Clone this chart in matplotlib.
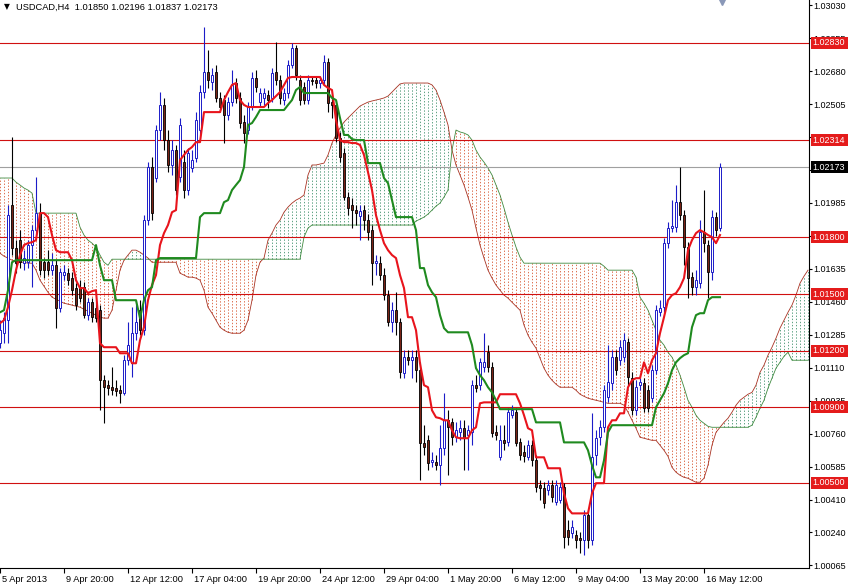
import numpy as np
import matplotlib
matplotlib.use("Agg")
import matplotlib.pyplot as plt
from matplotlib.transforms import blended_transform_factory
from matplotlib.patches import Rectangle

plt.rcParams['font.family'] = ['Liberation Sans', 'DejaVu Sans']

header_text = "USDCAD,H4  1.01850 1.02196 1.01837 1.02173"

opens = [
 1.01240, 1.01293, 1.01362, 1.01971, 1.01744, 1.01786, 1.01664, 1.01669, 1.01760, 1.01839,
 1.01929, 1.01669, 1.01669, 1.01627, 1.01653, 1.01426, 1.01601, 1.01611, 1.01585, 1.01532,
 1.01537, 1.01537, 1.01389, 1.01457, 1.01426, 1.01415, 1.01044, 1.01018, 1.01007, 1.01002,
 1.00991, 1.00975, 1.01150, 1.01134, 1.01293, 1.01415, 1.01309, 1.01892, 1.02173, 1.02115,
 1.02369, 1.02502, 1.02316, 1.02184, 1.02263, 1.02120, 1.02199, 1.02051, 1.02168, 1.02221,
 1.02369, 1.02570, 1.02676, 1.02623, 1.02676, 1.02539, 1.02528, 1.02449, 1.02517, 1.02618,
 1.02539, 1.02411, 1.02369, 1.02491, 1.02645, 1.02517, 1.02539, 1.02555, 1.02539, 1.02676,
 1.02634, 1.02528, 1.02565, 1.02713, 1.02804, 1.02634, 1.02597, 1.02528, 1.02634, 1.02634,
 1.02618, 1.02634, 1.02729, 1.02517, 1.02502, 1.02327, 1.02247, 1.02014, 1.01971, 1.01945,
 1.01913, 1.01945, 1.01892, 1.01839, 1.01664, 1.01664, 1.01601, 1.01495, 1.01351, 1.01415,
 1.01351, 1.01081, 1.01166, 1.01150, 1.01166, 1.01097, 1.00710, 1.00726, 1.00609, 1.00609,
 1.00594, 1.00684, 1.00832, 1.00821, 1.00742, 1.00768, 1.00790, 1.00753, 1.00768, 1.01018,
 1.01018, 1.01113, 1.01192, 1.01113, 1.00768, 1.00636, 1.00726, 1.00715, 1.00859, 1.00875,
 1.00715, 1.00662, 1.00636, 1.00700, 1.00620, 1.00488, 1.00472, 1.00461, 1.00488, 1.00397,
 1.00408, 1.00477, 1.00249, 1.00233, 1.00223, 1.00207, 1.00196, 1.00329, 1.00196, 1.00647,
 1.00742, 1.00795, 1.00954, 1.01028, 1.01166, 1.01150, 1.01166, 1.01245, 1.01055, 1.00885,
 1.01018, 1.01028, 1.00991, 1.00949, 1.01097, 1.01404, 1.01431, 1.01770, 1.01850, 1.01855,
 1.01987, 1.01918, 1.01749, 1.01590, 1.01537, 1.01558, 1.01828, 1.01760, 1.01616, 1.01908,
 1.01850]

highs = [
 1.01362, 1.01404, 1.01971, 1.02332, 1.01786, 1.01839, 1.01733, 1.01786, 1.01866, 1.02120,
 1.01982, 1.01691, 1.01733, 1.01717, 1.01680, 1.01638, 1.01653, 1.01638, 1.01616, 1.01558,
 1.01574, 1.01563, 1.01479, 1.01479, 1.01457, 1.01442, 1.01071, 1.01044, 1.01113, 1.01044,
 1.01018, 1.01177, 1.01351, 1.01431, 1.01468, 1.01468, 1.01918, 1.02199, 1.02226, 1.02396,
 1.02570, 1.02539, 1.02369, 1.02316, 1.02290, 1.02433, 1.02263, 1.02274, 1.02263, 1.02464,
 1.02608, 1.02915, 1.02793, 1.02698, 1.02713, 1.02570, 1.02555, 1.02544, 1.02687, 1.02645,
 1.02570, 1.02449, 1.02517, 1.02676, 1.02687, 1.02592, 1.02592, 1.02581, 1.02698, 1.02835,
 1.02660, 1.02592, 1.02740, 1.02830, 1.02820, 1.02660, 1.02623, 1.02660, 1.02655, 1.02655,
 1.02655, 1.02767, 1.02751, 1.02549, 1.02528, 1.02359, 1.02274, 1.02040, 1.02009, 1.01971,
 1.01971, 1.01971, 1.01924, 1.01866, 1.01707, 1.01701, 1.01638, 1.01521, 1.01457, 1.01510,
 1.01373, 1.01203, 1.01203, 1.01203, 1.01203, 1.01139, 1.00806, 1.00753, 1.00662, 1.00647,
 1.00806, 1.00975, 1.00885, 1.00843, 1.00821, 1.00832, 1.00832, 1.00806, 1.01044, 1.01071,
 1.01161, 1.01293, 1.01230, 1.01139, 1.00806, 1.00806, 1.00806, 1.00896, 1.00912, 1.00896,
 1.00737, 1.00700, 1.00726, 1.00726, 1.00647, 1.00514, 1.00504, 1.00514, 1.00514, 1.00514,
 1.00504, 1.00499, 1.00302, 1.00302, 1.00249, 1.00238, 1.00355, 1.00355, 1.00869, 1.00779,
 1.00832, 1.01018, 1.01230, 1.01203, 1.01203, 1.01256, 1.01293, 1.01267, 1.01086, 1.01044,
 1.01055, 1.01055, 1.01018, 1.01124, 1.01442, 1.01468, 1.01797, 1.01881, 1.01998, 1.02078,
 1.02173, 1.01945, 1.01775, 1.01616, 1.01627, 1.01892, 1.02051, 1.01786, 1.01945, 1.01934,
 1.02196]

lows = [
 1.01214, 1.01240, 1.01240, 1.01707, 1.01611, 1.01638, 1.01627, 1.01638, 1.01537, 1.01813,
 1.01601, 1.01585, 1.01601, 1.01601, 1.01320, 1.01404, 1.01574, 1.01548, 1.01495, 1.01415,
 1.01457, 1.01373, 1.01362, 1.01351, 1.01351, 1.00885, 1.00816, 1.00965, 1.00965, 1.00959,
 1.00922, 1.00965, 1.01124, 1.01060, 1.01256, 1.01283, 1.01283, 1.01866, 1.01892, 1.02093,
 1.02316, 1.02263, 1.02146, 1.02131, 1.02025, 1.02093, 1.02009, 1.02025, 1.02146, 1.02199,
 1.02343, 1.02539, 1.02592, 1.02581, 1.02517, 1.02464, 1.02300, 1.02422, 1.02496, 1.02512,
 1.02380, 1.02300, 1.02348, 1.02475, 1.02570, 1.02496, 1.02502, 1.02486, 1.02517, 1.02608,
 1.02507, 1.02502, 1.02539, 1.02698, 1.02634, 1.02502, 1.02507, 1.02507, 1.02608, 1.02592,
 1.02592, 1.02613, 1.02464, 1.02433, 1.02305, 1.02199, 1.01998, 1.01918, 1.01850, 1.01866,
 1.01786, 1.01839, 1.01786, 1.01548, 1.01601, 1.01574, 1.01468, 1.01330, 1.01298, 1.01283,
 1.01055, 1.01055, 1.01124, 1.01055, 1.01034, 1.00514, 1.00647, 1.00567, 1.00583, 1.00567,
 1.00488, 1.00647, 1.00541, 1.00700, 1.00715, 1.00726, 1.00567, 1.00567, 1.00700, 1.00980,
 1.00991, 1.01086, 1.01086, 1.00742, 1.00726, 1.00620, 1.00673, 1.00694, 1.00843, 1.00694,
 1.00620, 1.00609, 1.00620, 1.00588, 1.00450, 1.00408, 1.00366, 1.00435, 1.00397, 1.00382,
 1.00392, 1.00154, 1.00170, 1.00207, 1.00154, 1.00127, 1.00117, 1.00154, 1.00170, 1.00594,
 1.00700, 1.00768, 1.00927, 1.00991, 1.01071, 1.01124, 1.01139, 1.01018, 1.00859, 1.00859,
 1.00991, 1.00875, 1.00875, 1.00927, 1.01076, 1.01383, 1.01404, 1.01744, 1.01828, 1.01828,
 1.01892, 1.01653, 1.01479, 1.01495, 1.01495, 1.01532, 1.01722, 1.01479, 1.01574, 1.01807,
 1.01837]

closes = [
 1.01309, 1.01373, 1.01918, 1.01744, 1.01664, 1.01669, 1.01691, 1.01760, 1.01839, 1.01929,
 1.01627, 1.01627, 1.01627, 1.01653, 1.01426, 1.01616, 1.01616, 1.01574, 1.01521, 1.01442,
 1.01479, 1.01389, 1.01457, 1.01378, 1.01373, 1.01044, 1.01007, 1.01002, 1.00991, 1.00986,
 1.00975, 1.01150, 1.01230, 1.01293, 1.01351, 1.01309, 1.01892, 1.02173, 1.01929, 1.02369,
 1.02502, 1.02316, 1.02184, 1.02263, 1.02051, 1.02396, 1.02051, 1.02247, 1.02210, 1.02422,
 1.02570, 1.02676, 1.02634, 1.02660, 1.02539, 1.02491, 1.02449, 1.02517, 1.02608, 1.02539,
 1.02406, 1.02353, 1.02491, 1.02645, 1.02597, 1.02565, 1.02565, 1.02528, 1.02671, 1.02634,
 1.02539, 1.02565, 1.02713, 1.02804, 1.02660, 1.02528, 1.02528, 1.02634, 1.02629, 1.02618,
 1.02634, 1.02729, 1.02512, 1.02502, 1.02327, 1.02226, 1.02014, 1.01956, 1.01945, 1.01929,
 1.01940, 1.01892, 1.01828, 1.01664, 1.01675, 1.01601, 1.01495, 1.01351, 1.01415, 1.01351,
 1.01086, 1.01166, 1.01150, 1.01166, 1.01097, 1.00710, 1.00689, 1.00604, 1.00620, 1.00594,
 1.00684, 1.00832, 1.00795, 1.00742, 1.00779, 1.00790, 1.00737, 1.00779, 1.01018, 1.01002,
 1.01139, 1.01139, 1.01113, 1.00763, 1.00753, 1.00726, 1.00710, 1.00875, 1.00885, 1.00710,
 1.00647, 1.00641, 1.00700, 1.00620, 1.00477, 1.00472, 1.00392, 1.00488, 1.00424, 1.00488,
 1.00477, 1.00212, 1.00212, 1.00265, 1.00196, 1.00196, 1.00329, 1.00196, 1.00636, 1.00737,
 1.00795, 1.00991, 1.01034, 1.01166, 1.01097, 1.01219, 1.01256, 1.01060, 1.00885, 1.01007,
 1.01034, 1.00896, 1.00896, 1.01097, 1.01415, 1.01426, 1.01770, 1.01850, 1.01860, 1.01987,
 1.01918, 1.01749, 1.01585, 1.01537, 1.01574, 1.01828, 1.01770, 1.01616, 1.01908, 1.01839,
 1.02173]

tenkan = ([1.01346, 1.01362, 1.01431, 1.01521, 1.01627, 1.01707, 1.01760, 1.01770, 1.01775, 1.01786,
           1.01929, 1.01929, 1.01908, 1.01813, 1.01733, 1.01722, 1.01722, 1.01722, 1.01680, 1.01574,
           1.01532, 1.01532, 1.01505, 1.01516, 1.01521, 1.01240, 1.01219, 1.01219, 1.01219, 1.01219,
           1.01187, 1.01187, 1.01187, 1.01134, 1.01134, 1.01256, 1.01325, 1.01468, 1.01548, 1.01601,
           1.01760, 1.01823, 1.01866, 1.01934, 1.01945, 1.02210, 1.02237, 1.02263, 1.02279, 1.02305,
           1.02305] + [1.02464] * 5 + [1.02528, 1.02570, 1.02608, 1.02618, 1.02528, 1.02502]
          + [1.02491] * 5 + [1.02512, 1.02528, 1.02549, 1.02570, 1.02608, 1.02645] + [1.02650] * 8
          + [1.02608, 1.02592, 1.02581, 1.02422, 1.02316, 1.02305, 1.02305, 1.02300, 1.02300,
             1.02290, 1.02237, 1.02146, 1.02051, 1.01918, 1.01839, 1.01770, 1.01733, 1.01707, 1.01691,
             1.01601, 1.01532, 1.01378, 1.01378, 1.01309, 1.01134, 1.01018, 1.01007, 1.00885, 1.00848,
             1.00843, 1.00832, 1.00832, 1.00779, 1.00742, 1.00737, 1.00737, 1.00737, 1.00779, 1.00795,
             1.00922] + [1.00927] * 4 + [1.00970] * 5
          + [1.00922, 1.00859, 1.00790, 1.00779] + [1.00636] * 3 + [1.00578] * 4
          + [1.00445, 1.00366] + [1.00339] * 5 + [1.00445] + [1.00499] * 3
          + [1.00795, 1.00832, 1.00832, 1.00869, 1.00869, 1.01007, 1.01044, 1.01055,
             1.01055, 1.01139, 1.01081, 1.01150, 1.01187, 1.01293, 1.01378, 1.01468, 1.01495, 1.01505,
             1.01537, 1.01585, 1.01733, 1.01786, 1.01823, 1.01839, 1.01828, 1.01813, 1.01802, 1.01770,
             1.01813])

kijun = ([1.01404, 1.01415, 1.01521, 1.01669] + [1.01680] * 20 + [1.01760, 1.01653] + [1.01574] * 3
         + [1.01468] * 6 + [1.01373, 1.01468, 1.01521, 1.01537, 1.01680] + [1.01691] * 10
         + [1.01908] + [1.01929] * 5 + [1.01987, 1.01998, 1.02051, 1.02078, 1.02104, 1.02173]
         + [1.02396, 1.02406, 1.02438] + [1.02475] * 7 + [1.02502, 1.02528, 1.02581, 1.02597]
         + [1.02565] * 7 + [1.02539, 1.02528, 1.02433] + [1.02343] * 2 + [1.02321] + [1.02316] * 3
         + [1.02194] * 4 + [1.02115, 1.02088, 1.01998] + [1.01908] * 5 + [1.01839] + [1.01638] * 2
         + [1.01548, 1.01510, 1.01484, 1.01389, 1.01320] + [1.01298] * 6
         + [1.01230, 1.01108, 1.01071, 1.01044, 1.01007, 1.00980, 1.00938] + [1.00891] * 9
         + [1.00821] * 7 + [1.00715] * 6 + [1.00673, 1.00594] + [1.00530] * 2 + [1.00620, 1.00768]
         + [1.00806] * 11 + [1.00901, 1.00938, 1.00975, 1.01028, 1.01097, 1.01139, 1.01161, 1.01177, 1.01187]
         + [1.01325, 1.01389] + [1.01399] * 2 + [1.01468] + [1.01484] * 3)

senkou_a = [
 1.01717, 1.01701, 1.01691, 1.01680, 1.01675, 1.01669, 1.01669, 1.01664, 1.01664, 1.01627,
 1.01574, 1.01542, 1.01510, 1.01484, 1.01473, 1.01463, 1.01452, 1.01447, 1.01442, 1.01436,
 1.01431, 1.01420, 1.01410, 1.01399, 1.01389, 1.01378, 1.01373, 1.01373, 1.01415, 1.01521,
 1.01627, 1.01680, 1.01707, 1.01733, 1.01733, 1.01722, 1.01707, 1.01691, 1.01669, 1.01669,
 1.01669, 1.01669, 1.01669, 1.01669, 1.01669, 1.01611, 1.01601, 1.01590, 1.01590, 1.01585,
 1.01574, 1.01521, 1.01431, 1.01399, 1.01362, 1.01325, 1.01309, 1.01298, 1.01293, 1.01293,
 1.01293, 1.01309, 1.01362, 1.01468, 1.01601, 1.01669, 1.01691, 1.01786, 1.01823, 1.01866,
 1.01892, 1.01934, 1.01961, 1.01982, 1.01998, 1.02009, 1.02025, 1.02131, 1.02184, 1.02184,
 1.02189, 1.02194, 1.02237, 1.02300, 1.02343, 1.02380, 1.02411, 1.02433, 1.02454, 1.02475,
 1.02496, 1.02507, 1.02517, 1.02523, 1.02528, 1.02533, 1.02539, 1.02549, 1.02570, 1.02592,
 1.02613, 1.02618, 1.02618, 1.02618, 1.02618, 1.02618, 1.02618, 1.02618, 1.02608, 1.02581,
 1.02528, 1.02464, 1.02396, 1.02263, 1.02184, 1.02131, 1.02078, 1.02014, 1.01945, 1.01850,
 1.01760, 1.01691, 1.01627, 1.01585, 1.01548, 1.01521, 1.01495, 1.01479, 1.01457, 1.01436,
 1.01415, 1.01336, 1.01283, 1.01245, 1.01214, 1.01161, 1.01108, 1.01071, 1.01044, 1.01023,
 1.01007, 1.01007, 1.01007, 1.01007, 1.00991, 1.00970, 1.00959, 1.00949, 1.00943, 1.00938,
 1.00933, 1.00927, 1.00922, 1.00922, 1.00922, 1.00922, 1.00912, 1.00875, 1.00832, 1.00790,
 1.00742, 1.00737, 1.00731, 1.00726, 1.00726, 1.00700, 1.00673, 1.00641, 1.00583, 1.00557,
 1.00541, 1.00530, 1.00525, 1.00514, 1.00504, 1.00504, 1.00525, 1.00594, 1.00700, 1.00768,
 1.00795, 1.00821, 1.00843, 1.00875, 1.00912, 1.00938, 1.00954, 1.00970, 1.00980, 1.01018,
 1.01086, 1.01124, 1.01177, 1.01219, 1.01267, 1.01320, 1.01362, 1.01404, 1.01442, 1.01495,
 1.01558, 1.01595, 1.01627]

senkou_b = ([1.02115] * 4 + [1.02093, 1.02078, 1.02062, 1.02051, 1.02035] + [1.01929] * 11
            + [1.01855, 1.01813, 1.01786, 1.01770, 1.01749, 1.01707, 1.01669, 1.01653]
            + [1.01685] * 48 + [1.01802, 1.01850] + [1.01866] * 26
            + [1.01887, 1.01897, 1.01908, 1.01924, 1.01945, 1.01966, 1.01982, 1.02014, 1.02051, 1.02263]
            + [1.02369, 1.02359, 1.02353, 1.02343, 1.02316, 1.02263, 1.02226, 1.02199, 1.02168,
               1.02131, 1.02078, 1.02025, 1.01956, 1.01881, 1.01813, 1.01749, 1.01696]
            + [1.01664] * 20 + [1.01648] + [1.01627] * 7
            + [1.01590, 1.01484, 1.01452, 1.01415, 1.01362, 1.01309, 1.01256, 1.01230, 1.01192, 1.01166,
               1.01124, 1.01071, 1.01007, 1.00938, 1.00901, 1.00859, 1.00832, 1.00816, 1.00800]
            + [1.00795] * 10
            + [1.00806, 1.00848, 1.00896, 1.00938, 1.01002, 1.01055, 1.01108, 1.01139, 1.01171, 1.01192]
            + [1.01150] * 5)

time_labels = ["5 Apr 2013", "9 Apr 20:00", "12 Apr 12:00", "17 Apr 04:00", "19 Apr 20:00",
               "24 Apr 12:00", "29 Apr 04:00", "1 May 20:00", "6 May 12:00", "9 May 04:00",
               "13 May 20:00", "16 May 12:00"]
time_label_bars = [0, 16, 32, 48, 64, 80, 96, 112, 128, 144, 160, 176]

price_ticks = [1.03030, 1.02855, 1.02680, 1.02505, 1.02330, 1.02155, 1.01985, 1.01810, 1.01635,
               1.01460, 1.01285, 1.01110, 1.00935, 1.00760, 1.00585, 1.00410, 1.00240, 1.00065]
# tick labels fully covered by the price boxes in the reference
covered_ticks = [1.02330, 1.02155, 1.01810]
level_lines = [1.02830, 1.02314, 1.01800, 1.01500, 1.01200, 1.00900, 1.00500]
current_price = 1.02173

# ---------------------------------------------------------------
W, H = 848, 587
fig = plt.figure(figsize=(W / 100, H / 100), dpi=100)
ax_left, ax_bottom, ax_w, ax_h = 0, 19, 809, 568
ax = fig.add_axes([ax_left / W, ax_bottom / H, ax_w / W, ax_h / H])
ymin, ymax = 1.000498, 1.030577
ax.set_xlim(0, ax_w / 4.0)
ax.set_ylim(ymin, ymax)
px = (ymax - ymin) / ax_h

FS = 6.5
col_up = '#1c1cc8'
col_dn_face = '#7a2416'
col_orange_dot = '#dc7050'
col_green_dot = '#5ea283'

# cloud (vertical dotted hatch)
sa = np.array(senkou_a)
sb = np.array(senkou_b)
xc = np.arange(len(sa))
lo = np.minimum(sa, sb)
hi = np.maximum(sa, sb)
cols = [col_green_dot if a > b else col_orange_dot for a, b in zip(sa, sb)]
ax.vlines(xc, lo, hi, colors=cols, linewidth=0.7, linestyles=(0, (1.4, 1.8)), zorder=1)
ax.plot(xc, sa, color='#a83222', lw=0.6, zorder=1.5)
ax.plot(xc, sb, color='#3f8a3f', lw=0.6, zorder=1.5)

# horizontal levels
for lv in level_lines:
    ax.axhline(lv, color='#d01010', lw=0.8, zorder=2)
ax.axhline(current_price, color='#a0a0a0', lw=0.8, zorder=2)

# candles
o = np.array(opens); h = np.array(highs); l = np.array(lows); c = np.array(closes)
xb = np.arange(len(o))
up = c >= o
ax.vlines(xb[up], l[up], h[up], colors=col_up, lw=0.8, zorder=3)
ax.vlines(xb[~up], l[~up], h[~up], colors='black', lw=0.8, zorder=3)
body_h = np.maximum(np.abs(c - o), px * 0.8)
body_b = np.minimum(o, c)
ax.bar(xb[up], body_h[up], bottom=body_b[up], width=0.62, color='white',
       edgecolor=col_up, linewidth=0.7, zorder=4)
ax.bar(xb[~up], body_h[~up], bottom=body_b[~up], width=0.62, color=col_dn_face,
       edgecolor='black', linewidth=0.6, zorder=4)

# ichimoku lines
ax.plot(np.arange(len(tenkan)), tenkan, color='#e8141c', lw=1.5, zorder=5)
ax.plot(np.arange(len(kijun)), kijun, color='#1f8a1f', lw=1.5, zorder=5)

# axes styling
for s in ['left', 'top']:
    ax.spines[s].set_visible(False)
for s in ['right', 'bottom']:
    ax.spines[s].set_color('black')
    ax.spines[s].set_linewidth(0.8)
ax.yaxis.tick_right()
ax.set_yticks(price_ticks)
ax.set_yticklabels(["" if v in covered_ticks else "%.5f" % v for v in price_ticks])
ax.tick_params(axis='y', direction='out', length=2.2, width=0.8, pad=0.8, labelsize=FS, colors='black')
ax.set_xticks(time_label_bars)
ax.set_xticklabels([])
ax.tick_params(axis='x', direction='out', length=3.5, width=0.8, colors='black')
tr = blended_transform_factory(ax.transData, ax.transAxes)
for b, t in zip(time_label_bars, time_labels):
    ax.text(b + 0.4, -11 / ax_h, t, transform=tr, ha='left', va='center', fontsize=FS + 0.2,
            color='black', clip_on=False)

# price boxes on the axis
trf = blended_transform_factory(fig.transFigure, ax.transData)
box_h = 12 * px
for lv in level_lines:
    ax.add_patch(Rectangle((811 / W, lv - box_h / 2), 37 / W, box_h, transform=trf,
                           facecolor='#e41b1b', edgecolor='none', clip_on=False, zorder=9))
    ax.text(812.5 / W, lv, "%.5f" % lv, transform=trf, ha='left', va='center', fontsize=FS,
            color='white', clip_on=False, zorder=10)
ax.add_patch(Rectangle((811 / W, current_price - box_h / 2), 37 / W, box_h, transform=trf,
                       facecolor='black', edgecolor='none', clip_on=False, zorder=9))
ax.text(812.5 / W, current_price, "%.5f" % current_price, transform=trf, ha='left', va='center',
        fontsize=FS, color='white', clip_on=False, zorder=10)

# header
fig.text(4 / W, 1 - 7 / H, "\u25bc", fontsize=5.5, ha='left', va='center', color='black',
         family=['DejaVu Sans'])
fig.text(16 / W, 1 - 7 / H, header_text, fontsize=FS + 0.2, ha='left', va='center', color='black')

# chart-shift marker at the top
ax.plot([180.5], [ymax - 2 * px], marker='v', markersize=5, color='#8a98b8', clip_on=False, zorder=10)

fig.savefig("out.png", dpi=100)
